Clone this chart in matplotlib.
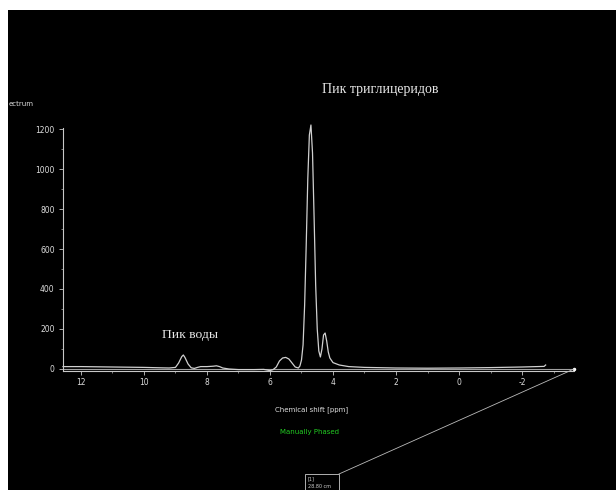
import matplotlib
matplotlib.use("Agg")
import matplotlib.pyplot as plt
from matplotlib.patches import Rectangle
from matplotlib.ticker import MultipleLocator

# Spectrum points (ppm, intensity)
ppm = [12.57, 12.0, 11.0, 10.0, 9.5, 9.2, 9.0, 8.9, 8.8, 8.75, 8.7, 8.6, 8.5, 8.4,
       8.3, 8.2, 8.0, 7.8, 7.7, 7.6, 7.5, 7.3, 7.0, 6.5, 6.2, 6.0, 5.9, 5.8, 5.7,
       5.6, 5.5, 5.4, 5.3, 5.2, 5.1, 5.05, 5.0, 4.95, 4.9, 4.85, 4.8, 4.75, 4.7, 4.65,
       4.6, 4.55, 4.5, 4.45, 4.4, 4.35, 4.3, 4.25, 4.2, 4.15, 4.1, 4.0, 3.8, 3.5,
       3.0, 2.0, 1.0, 0.0, -1.0, -2.0, -2.7, -2.75]
intensity = [12, 12, 10, 8, 6, 5, 8, 30, 62, 70, 58, 25, 6, 3,
             8, 12, 12, 14, 16, 12, 5, 0, -3, -3, -2, -8, -3, 10, 40,
             55, 58, 50, 30, 10, 5, 15, 45, 120, 320, 620, 950, 1170, 1220, 1080,
             760, 420, 200, 90, 60, 100, 170, 180, 140, 85, 55, 32, 20, 12,
             8, 5, 4, 5, 7, 10, 13, 20]

x_ticks = [12, 10, 8, 6, 4, 2, 0, -2]
y_ticks = [0, 200, 400, 600, 800, 1000, 1200]

W, H = 616, 490
fig = plt.figure(figsize=(W / 100, H / 100), dpi=100)
fig.patch.set_facecolor("white")
fig.patches.append(Rectangle((8 / W, 0), 1 - 8 / W, 1 - 10 / H, transform=fig.transFigure,
                             facecolor="black", edgecolor="none", zorder=-10))

ax = fig.add_axes([63 / W, 1 - 371 / H, (574 - 63) / W, (371 - 128) / H])
ax.set_facecolor("none")
ax.set_xlim(12.57, -3.65)
ax.set_ylim(-10, 1205)

fg = "#c8c8c8"
# zero reference line
ax.plot([12.57, -3.65], [0, 0], color="#a0a0a0", lw=0.8, zorder=2)
ax.plot(ppm, intensity, color="#d0d0d0", lw=0.9, clip_on=False, zorder=3)

for s in ["top", "right"]:
    ax.spines[s].set_visible(False)
for s in ["left", "bottom"]:
    ax.spines[s].set_color(fg)
    ax.spines[s].set_linewidth(0.8)

ax.set_xticks(x_ticks)
ax.set_xticklabels([str(v) for v in x_ticks])
ax.set_yticks(y_ticks)
ax.set_yticklabels([str(v) for v in y_ticks])
ax.xaxis.set_minor_locator(MultipleLocator(1))
ax.yaxis.set_minor_locator(MultipleLocator(100))
ax.tick_params(axis="both", which="major", colors=fg, labelcolor="#dddddd",
               labelsize=5.5, length=3, width=0.6, direction="out", pad=3)
ax.tick_params(axis="x", which="major", pad=2)
ax.tick_params(axis="both", which="minor", colors="#999999", length=1.5, width=0.6)

# endpoint dots
ax.plot([-3.65], [0], marker="o", ms=1.5, color="white", clip_on=False)

# annotations
fig.text(322 / W, 1 - 90 / H, "Пик триглицеридов", family="Liberation Serif",
         fontsize=10, color="#e8e8e8", va="center", ha="left")
fig.text(162 / W, 1 - 335 / H, "Пик воды", family="Liberation Serif",
         fontsize=9.7, color="#e8e8e8", va="center", ha="left")
fig.text(9 / W, 1 - 104 / H, "ectrum", fontsize=5, color="#dddddd",
         va="center", ha="left")
fig.text(312 / W, 1 - 410 / H, "Chemical shift [ppm]", fontsize=5, color="#e0e0e0",
         va="center", ha="center")
fig.text(310 / W, 1 - 432 / H, "Manually Phased", fontsize=5, color="#22cc22",
         va="center", ha="center")

# measurement box and diagonal line
fig.add_artist(plt.Line2D([574 / W, 339 / W], [1 - 369 / H, 1 - 474 / H],
                          transform=fig.transFigure, color="#bbbbbb", lw=0.6))
fig.patches.append(Rectangle((305 / W, 0), 34 / W, 16 / H, transform=fig.transFigure,
                             facecolor="black", edgecolor="#cccccc", lw=0.6))
fig.text(308 / W, 1 - 479 / H, "[1]", fontsize=3.5, color="#cccccc", va="center")
fig.text(308 / W, 1 - 486 / H, "28.80 cm", fontsize=3.5, color="#cccccc", va="center")

fig.savefig("out.png", dpi=100, facecolor=fig.get_facecolor())
